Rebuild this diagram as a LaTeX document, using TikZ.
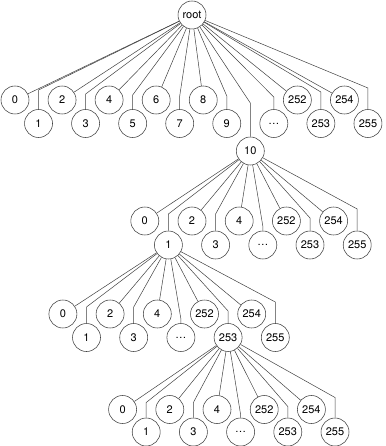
\documentclass[tikz,border=0pt]{standalone}
\usepackage{fontspec}
\setmainfont{TeX Gyre Heros}
\tikzset{
  nd/.style={circle,draw=black!75,line width=0.55pt,minimum size=28pt,inner sep=0pt,font=\fontsize{11}{13}\selectfont},
  edge/.style={draw=black!75,line width=0.5pt}
}
\newcommand\mysub[6]{%
  \foreach \k/\lab in {0/0,2/2,4/4,6/252,8/254}{
    \node[nd] (#1\k) at ({#3-105.5+23.6*\k},{#4+#5}) {\lab};
    \draw[edge] (#2) -- (#1\k);
  }
  \foreach \k/\lab/\off in {1/1/-7,3/3/-7,5/…/5,7/253/-3,9/255/-12}{
    \pgfmathsetmacro\by{#4+#5+\off}
    \node[nd] (#1\k) at ({#3-105.5+23.6*\k},{#4+#6}) {\lab};
    \draw[edge] (#2) -- (#1\k |- 0,\by) -- (#1\k);
  }
}
\begin{document}
\begin{tikzpicture}[x=1pt,y=-1pt]
\useasboundingbox (0,0) rectangle (385,446);
\node[nd] (root) at (192,15) {root};
\foreach \k/\lab in {0/0,2/2,4/4,6/6,8/8,12/252,14/254}{
  \node[nd] (t\k) at ({15+23.53*\k},100) {\lab};
  \draw[edge] (root) -- (t\k);
}
\foreach \k/\lab/\by in {1/1/90,3/3/94,5/5/95,7/7/96,9/9/96,11/…/97,13/253/92,15/255/88}{
  \node[nd] (t\k) at ({15+23.53*\k},123.5) {\lab};
  \draw[edge] (root) -- (t\k |- 0,\by) -- (t\k);
}
\node[nd] (t10) at ({15+23.53*10},151) {10};
\draw[edge] (root) -- (t10 |- 0,103) -- (t10);
\mysub{a}{t10}{250.3}{151}{70}{94}
\mysub{b}{a1}{168.4}{245}{69}{92.5}
\mysub{c}{b7}{228.1}{337.5}{72}{94.5}
\end{tikzpicture}
\end{document}
